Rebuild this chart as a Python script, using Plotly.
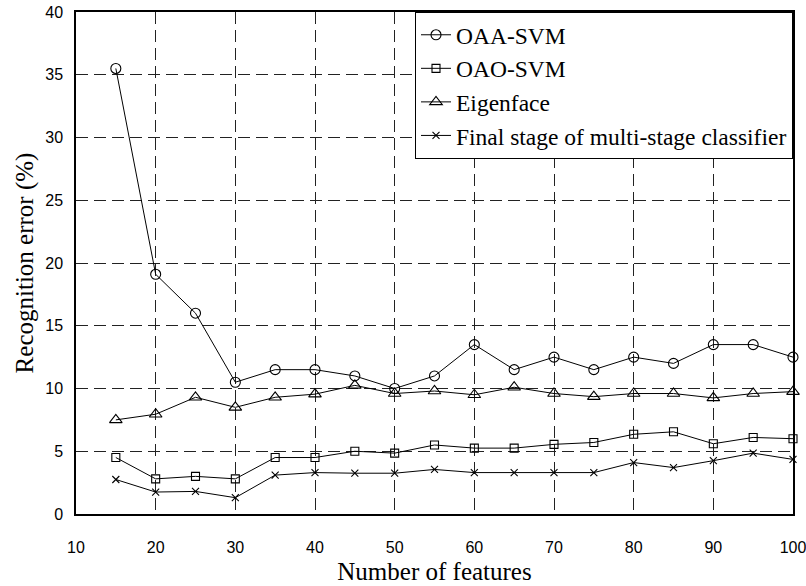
import plotly.graph_objects as go

features = [15, 20, 25, 30, 35, 40, 45, 50, 55, 60, 65, 70, 75, 80, 85, 90, 95, 100]
oaa_svm = [35.5, 19.1, 16.0, 10.5, 11.5, 11.5, 11.0, 10.0, 11.0, 13.5, 11.5, 12.5, 11.5, 12.5, 12.0, 13.5, 13.5, 12.5]
oao_svm = [4.5, 2.8, 3.0, 2.8, 4.5, 4.5, 5.0, 4.85, 5.5, 5.25, 5.25, 5.55, 5.7, 6.35, 6.55, 5.6, 6.1, 6.0]
eigenface = [7.5, 7.95, 9.3, 8.5, 9.3, 9.55, 10.25, 9.6, 9.8, 9.5, 10.1, 9.6, 9.35, 9.6, 9.6, 9.25, 9.6, 9.75]
final_stage = [2.75, 1.75, 1.8, 1.3, 3.1, 3.3, 3.25, 3.25, 3.55, 3.3, 3.3, 3.3, 3.3, 4.1, 3.7, 4.25, 4.85, 4.35]

series_names = ["OAA-SVM", "OAO-SVM", "Eigenface", "Final stage of multi-stage classifier"]
x_ticks = [10, 20, 30, 40, 50, 60, 70, 80, 90, 100]
y_ticks = [0, 5, 10, 15, 20, 25, 30, 35, 40]

symbols = ["circle-open", "square-open", "triangle-up-open", "x-thin-open"]
sizes = [10, 8, 11, 7]

fig = go.Figure()
for name, ys, sym, sz in zip(series_names, [oaa_svm, oao_svm, eigenface, final_stage], symbols, sizes):
    fig.add_trace(go.Scatter(
        x=features, y=ys, name=name, mode="lines+markers",
        line=dict(color="black", width=1),
        marker=dict(symbol=sym, size=sz, color="black", line=dict(color="black", width=1.1)),
        cliponaxis=False,
    ))

serif = "Liberation Serif, Times New Roman, serif"
narrow = "Liberation Sans Narrow, Arial Narrow, Liberation Sans, Arial, sans-serif"

fig.update_layout(
    width=806, height=586,
    margin=dict(l=76, r=13, t=12, b=72),
    paper_bgcolor="white", plot_bgcolor="white",
    showlegend=True,
    legend=dict(
        x=1.0, xanchor="right", y=1.0, yanchor="top",
        bgcolor="white", bordercolor="black", borderwidth=1,
        font=dict(family=serif, size=23.5, color="black"),
        tracegroupgap=0, itemwidth=30,
    ),
    xaxis=dict(
        range=[10, 100], tickvals=x_ticks, ticks="",
        showgrid=True, gridcolor="#222", griddash="12px,6px", gridwidth=1,
        showline=True, linecolor="black", linewidth=1.5, mirror=True,
        zeroline=False, automargin=False, ticklabeloverflow="allow",
        tickfont=dict(family=narrow, size=16, color="black"),
        ticklabelstandoff=18,
        title=dict(text="Number of features", font=dict(family=serif, size=25, color="black"), standoff=8),
    ),
    yaxis=dict(
        range=[0, 40], tickvals=y_ticks, ticks="",
        showgrid=True, gridcolor="#222", griddash="12px,6px", gridwidth=1,
        showline=True, linecolor="black", linewidth=1.5, mirror=True,
        zeroline=False, automargin=False, ticklabeloverflow="allow",
        tickfont=dict(family=narrow, size=16, color="black"),
        ticklabelstandoff=8,
        title=dict(text="Recognition error (%)", font=dict(family=serif, size=25, color="black"), standoff=5),
    ),
)

fig.write_html("out.html", config={"displayModeBar": False},
               post_script="document.body.style.margin='0px';")
